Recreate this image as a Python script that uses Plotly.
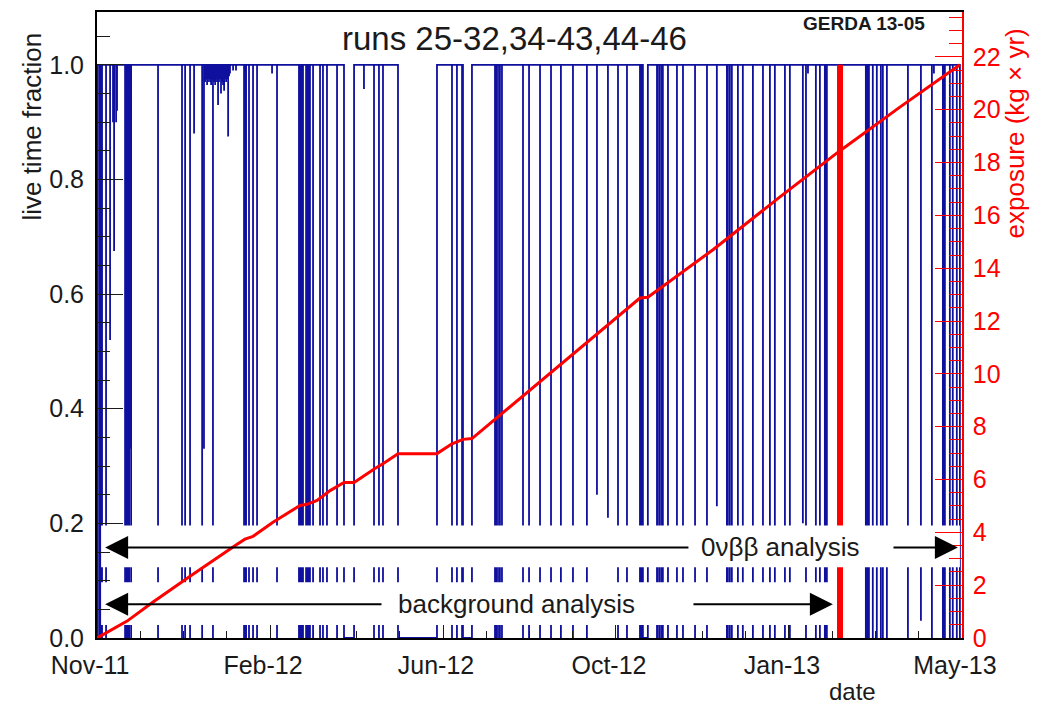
import pandas as pd
import plotly.graph_objects as go

# ---------------------------------------------------------------- data
RUN_START = pd.Timestamp("2011-11-09")
RUN_DAYS = 559.0            # length of the period on the time axis (days)
N_DIV = 5                   # labelled time divisions
MINOR_PER_DIV = 4

tick_labels = ["Nov-11", "Feb-12", "Jun-12", "Oct-12", "Jan-13", "May-13"]

# short interruptions: day since run start and lowest live-time fraction
drop_day = [
    0.3, 1.3, 2.3, 3.2, 5.8, 8.4, 10.3, 11.0, 12.3, 12.9,
    18.1, 18.7, 19.4, 20.0, 20.7, 21.3, 22.0, 39.4, 54.9, 56.9,
    60.1, 62.7, 67.9, 69.1, 69.8, 70.4, 71.1, 71.7, 72.4, 73.0,
    73.7, 74.3, 74.9, 75.6, 76.3, 76.9, 77.5, 78.2, 78.8, 79.5,
    80.1, 80.8, 81.4, 82.1, 82.7, 83.4, 84.0, 84.7, 85.3, 85.9,
    87.9, 89.8, 95.0, 95.6, 96.3, 98.2, 100.8, 103.4, 113.1, 116.3,
    130.5, 131.2, 131.8, 132.5, 133.1, 135.1, 135.7, 136.3, 137.0, 137.6,
    139.6, 144.1, 146.0, 148.6, 155.1, 172.5, 179.0, 182.2, 184.8, 229.4,
    232.6, 235.9, 257.2, 257.8, 258.5, 259.8, 260.4, 261.7, 275.3, 279.2,
    286.3, 293.4, 299.8, 307.6, 316.6, 323.1, 330.2, 336.7, 342.5, 350.9,
    351.5, 352.2, 361.9, 362.5, 363.8, 365.1, 365.7, 369.0, 374.8, 378.7,
    386.5, 394.2, 400.6, 407.1, 407.7, 409.0, 410.3, 414.2, 417.4, 423.9,
    430.4, 434.9, 438.1, 444.6, 447.8, 456.2, 458.2, 459.5, 464.6, 467.2,
    470.4, 471.1, 471.7, 496.9, 497.6, 498.2, 498.9, 501.4, 504.0, 506.6,
    507.9, 510.5, 524.1, 532.5, 539.6, 540.9, 546.7, 547.3, 548.0, 551.2,
    553.1, 555.7,
]
drop_level = [
    0, 0, 0, 0, 0, 0.52, 0.90, 0.675, 0.90, 0.92,
    0, 0, 0, 0, 0, 0.33, 0, 0, 0, 0,
    0, 0.88, 0, 0.33, 0.97, 0.975, 0.965, 0.97, 0.975, 0.97,
    0.965, 0.975, 0, 0.97, 0.965, 0.975, 0.97, 0.93, 0.97, 0.975,
    0.95, 0.97, 0.965, 0.955, 0.975, 0.97, 0.975, 0.875, 0.98, 0.985,
    0.99, 0.99, 0, 0, 0, 0, 0, 0, 0.985, 0,
    0, 0, 0, 0, 0, 0, 0, 0, 0, 0,
    0, 0, 0, 0, 0, 0.958, 0, 0, 0, 0,
    0, 0, 0, 0, 0, 0, 0, 0, 0, 0,
    0, 0, 0, 0, 0, 0.25, 0.21, 0, 0, 0,
    0, 0, 0, 0, 0, 0, 0, 0, 0, 0,
    0, 0, 0.23, 0, 0, 0, 0, 0, 0, 0,
    0, 0, 0, 0, 0, 0.20, 0, 0.985, 0, 0,
    0, 0, 0, 0, 0, 0, 0, 0, 0, 0,
    0, 0, 0, 0.03, 0, 0.985, 0, 0, 0, 0,
    0, 0,
]

# longer stops with no data taking (live time 0): first and last day
stop_start = [159.6, 194.5, 236.5, 352.8]
stop_end = [166.1, 219.7, 242.3, 356.0]
live_last_day = 557.7

# accumulated exposure in kg x yr
exposure_day = [
    0, 19.4, 36.2, 60.1, 90.5, 95.6, 100.8, 113.7, 131.2, 135.7,
    142.2, 150.6, 159.6, 166.1, 179.6, 184.8, 194.5, 219.7, 229.4, 236.5,
    242.3, 299.2, 350.9, 356.0, 398.1, 441.4, 480.2, 518.9, 557.7,
]
exposure_value = [
    0.0, 0.64, 1.36, 2.34, 3.55, 3.74, 3.85, 4.38, 5.02, 5.06,
    5.21, 5.58, 5.89, 5.89, 6.42, 6.60, 6.98, 6.98, 7.35, 7.52,
    7.55, 10.35, 12.87, 12.90, 14.70, 16.70, 18.45, 20.10, 21.70,
]

# end of the data set used for the background analysis
bkg_cut_day = 480.2

# analysis windows (arrow tips / tails in days)
onbb_window = (5.2, 556.4)
bkg_window = (5.2, 475.6)


def to_date(days):
    return RUN_START + pd.to_timedelta(days, unit="D")


# ------------------------------------------------- live-time outline
events = [(d, "drop", v) for d, v in zip(drop_day, drop_level)]
events += [(s, "stop", e) for s, e in zip(stop_start, stop_end)]
events.sort(key=lambda ev: ev[0])

live_x, live_y = [0.0, 0.0], [0.0, 1.0]
for day, kind, val in events:
    if kind == "drop":
        live_x += [day, day, day]
        live_y += [1.0, val, 1.0]
    else:
        live_x += [day, day, val, val]
        live_y += [1.0, 0.0, 0.0, 1.0]
live_x += [live_last_day, live_last_day]
live_y += [1.0, 0.0]

FONT = "Liberation Sans, Arial, Helvetica, sans-serif"
INK = "#1a1a1a"
RED = "#ff0000"

fig = go.Figure()

fig.add_trace(go.Scatter(
    x=to_date(live_x), y=live_y, mode="lines",
    line=dict(color="#10109f", width=1.8), hoverinfo="skip",
    showlegend=False,
))

fig.add_trace(go.Scatter(
    x=to_date([bkg_cut_day, bkg_cut_day]), y=[0, 1], mode="lines",
    line=dict(color=RED, width=6), hoverinfo="skip", showlegend=False,
))

# white label boxes behind the analysis arrows
boxes = [
    (2.6, 557.7, 0.1235, 0.1965),
    (2.6, 477.5, 0.0226, 0.0974),
]
for x0, x1, y0, y1 in boxes:
    fig.add_trace(go.Scatter(
        x=to_date([x0, x1, x1, x0, x0]), y=[y0, y0, y1, y1, y0],
        mode="lines", fill="toself", fillcolor="white",
        line=dict(width=0, color="rgba(0,0,0,0)"),
        hoverinfo="skip", showlegend=False,
    ))

fig.add_trace(go.Scatter(
    x=to_date(exposure_day), y=exposure_value, mode="lines",
    line=dict(color=RED, width=3), yaxis="y2", hoverinfo="skip",
    showlegend=False,
))

# ------------------------------------------------------------ axes
div = RUN_DAYS / N_DIV
tick_vals = to_date([k * div for k in range(N_DIV + 1)])
minor_ms = div / MINOR_PER_DIV * 86400000

fig.update_layout(
    width=1039, height=706,
    margin=dict(l=97, r=77, t=10, b=68),
    paper_bgcolor="white", plot_bgcolor="white",
    font=dict(family=FONT, color=INK, size=25),
    xaxis=dict(
        type="date",
        range=[to_date(-0.05), to_date(RUN_DAYS + 0.05)],
        tickmode="array", tickvals=list(tick_vals), ticktext=tick_labels,
        ticks="inside", ticklen=13, tickwidth=1.2, tickcolor=INK,
        ticklabelshift=-7, ticklabelstandoff=4,
        tickfont=dict(size=25, color=INK),
        minor=dict(ticks="inside", ticklen=7, tickwidth=1, tickcolor=INK,
                   dtick=minor_ms, tick0=RUN_START, showgrid=False),
        showline=True, linecolor="black", linewidth=2, mirror=True,
        showgrid=False, zeroline=False,
    ),
    yaxis=dict(
        range=[0, 1.0922],
        tickmode="array", tickvals=[0, 0.2, 0.4, 0.6, 0.8, 1.0],
        ticktext=["0.0", "0.2", "0.4", "0.6", "0.8", "1.0"],
        ticks="inside", ticklen=26, tickwidth=1.2, tickcolor=INK,
        minor=dict(ticks="inside", ticklen=13, tickwidth=1, tickcolor=INK,
                   dtick=0.05, tick0=0, showgrid=False),
        tickfont=dict(size=25, color=INK), ticklabelstandoff=6,
        showline=True, linecolor="black", linewidth=2,
        showgrid=False, zeroline=False,
    ),
    yaxis2=dict(
        overlaying="y", side="right", range=[0, 23.7],
        tickmode="array", tickvals=list(range(0, 23, 2)),
        ticks="inside", ticklen=27, tickwidth=1.2, tickcolor=RED,
        minor=dict(ticks="inside", ticklen=13, tickwidth=1, tickcolor=RED,
                   dtick=0.5, tick0=0, showgrid=False),
        tickfont=dict(size=25, color=RED), ticklabelstandoff=4,
        showline=True, linecolor=RED, linewidth=1.5,
        showgrid=False, zeroline=False,
    ),
)

# ----------------------------------------------------- annotations
ann = [
    dict(text="runs 25-32,34-43,44-46", x=0.483, y=0.958,
         font=dict(size=33, color=INK)),
    dict(text="<b>GERDA 13-05</b>", x=0.887, y=0.981,
         font=dict(size=19, color=INK)),
    dict(text="live time fraction", x=-0.0751, y=0.817, textangle=-90,
         font=dict(size=26, color=INK)),
    dict(text="exposure (kg \u00d7 yr)", x=1.0613, y=0.806, textangle=-90,
         font=dict(size=26, color=RED)),
    dict(text="date", x=0.873, y=-0.086, font=dict(size=24, color=INK)),
]
for a in ann:
    fig.add_annotation(xref="paper", yref="paper", showarrow=False,
                       xanchor="center", yanchor="middle", **a)

arrows = [
    # (tip day, tail day, level)
    (onbb_window[0], 383.2, 0.158),
    (onbb_window[1], 513.8, 0.158),
    (bkg_window[0], 184.8, 0.059),
    (bkg_window[1], 384.5, 0.059),
]
for tip, tail, lvl in arrows:
    fig.add_annotation(
        x=to_date(tip), y=lvl, ax=to_date(tail), ay=lvl,
        xref="x", yref="y", axref="x", ayref="y", text="",
        showarrow=True, arrowhead=2, arrowsize=2.3, arrowwidth=2,
        arrowcolor="black",
    )

fig.add_annotation(x=to_date(442.0), y=0.158, xref="x", yref="y",
                   text="0\u03bd\u03b2\u03b2 analysis", showarrow=False,
                   font=dict(size=26, color=INK))
fig.add_annotation(x=to_date(271.1), y=0.059, xref="x", yref="y",
                   text="background analysis", showarrow=False,
                   font=dict(size=26, color=INK))

fig.write_html("out.html")
